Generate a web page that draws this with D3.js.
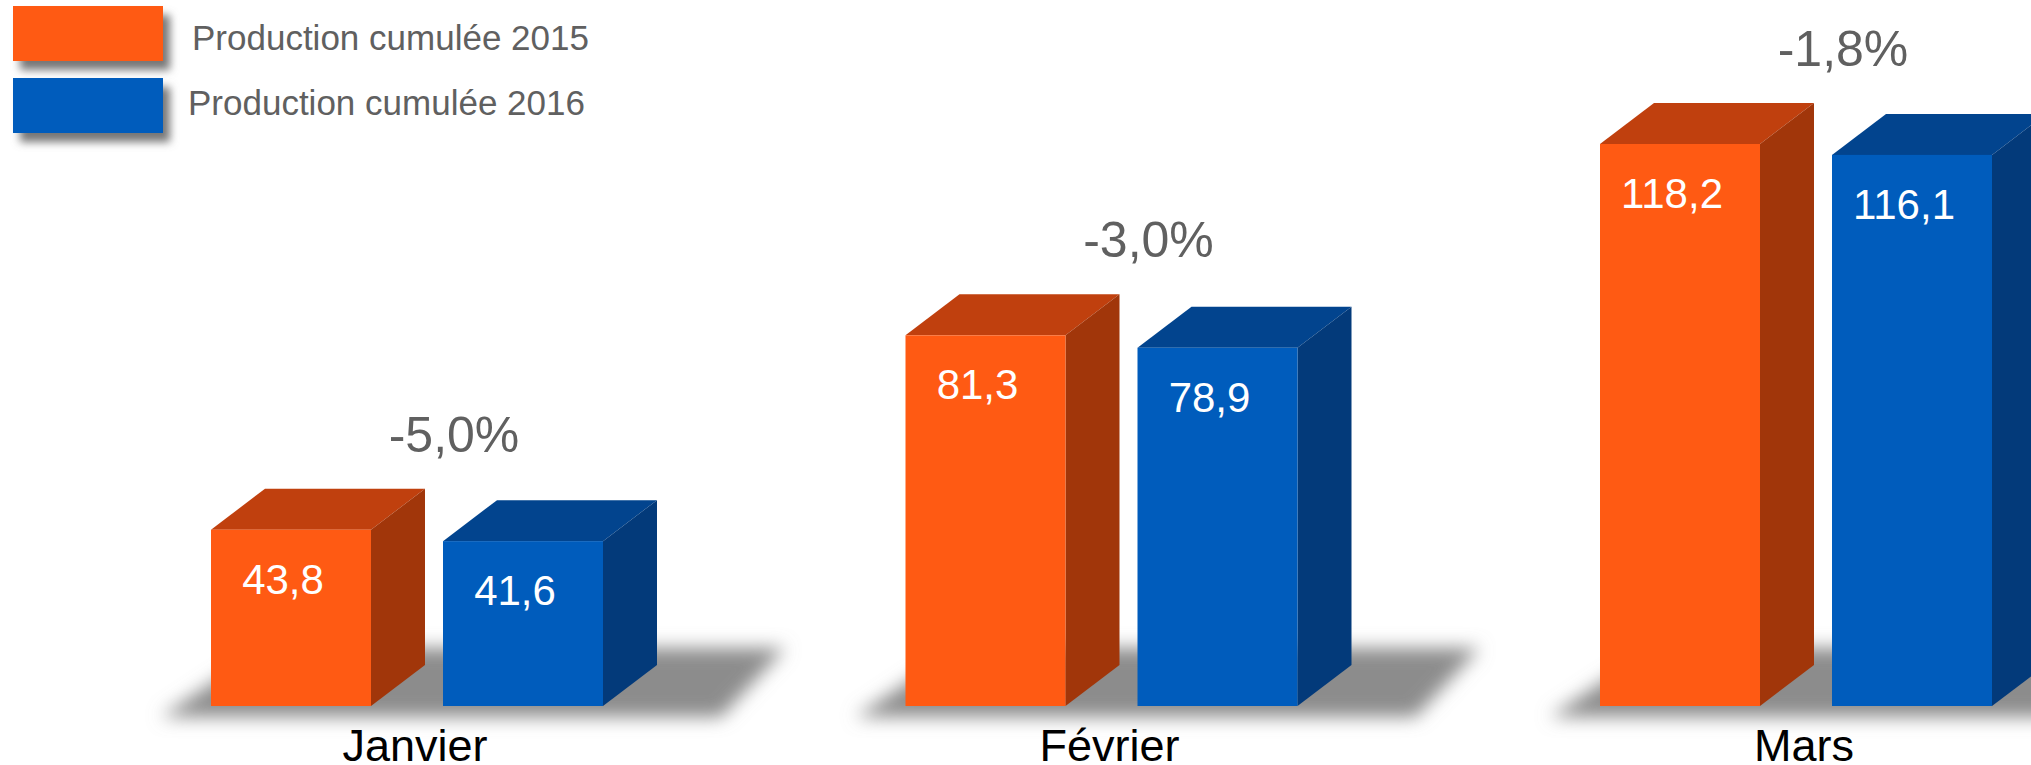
<!DOCTYPE html>
<html>
<head>
<meta charset="utf-8">
<script src="https://cdn.jsdelivr.net/npm/d3@7"></script>
<style>
  html, body { margin: 0; padding: 0; background: #fff; overflow: hidden; }
  svg { display: block; font-family: "Liberation Sans", Arial, sans-serif; }
</style>
</head>
<body>
<svg width="2031" height="765"></svg>
<script>
const months = ["Janvier", "Février", "Mars"]
const seriesNames = ["Production cumulée 2015", "Production cumulée 2016"]
const values2015 = [43.8, 81.3, 118.2]
const values2016 = [41.6, 78.9, 116.1]
const changes = ["-5,0%", "-3,0%", "-1,8%"]

const front = ["#ff5a13", "#005cbc"]
const top3d = ["#c0400e", "#02448e"]
const side = ["#a1360a", "#033a7a"]

const depthX = 54, depthY = 41, baseY = 706

const svg = d3.select("svg")

const defs = svg.append("defs")
defs.append("filter").attr("id", "floor").attr("x", "-20%").attr("y", "-50%").attr("width", "140%").attr("height", "200%")
  .append("feGaussianBlur").attr("stdDeviation", 9)
defs.append("filter").attr("id", "soft").attr("x", "-20%").attr("y", "-30%").attr("width", "140%").attr("height", "170%")
  .append("feGaussianBlur").attr("stdDeviation", 4)

// value axis does not start at zero in the original
const y = d3.scaleLinear().domain([9.8, 118.2]).range([baseY, 144])
const x = d3.scaleBand().domain(months).range([211, 211 + 3 * 694.5])
const xSeries = d3.scaleOrdinal().domain([0, 1]).range([0, 232])
const barWidth = 160

const fmt = (v) => d3.format(".1f")(v).replace(".", ",")

// floor shadows
svg.append("g").selectAll("path").data(months).join("path")
  .attr("d", (m) => {
    const l = x(m)
    return `M${l - 50},717 L${l + 510},717 L${l + 510 + 64},648 L${l + 54},648 Z`
  })
  .attr("fill", "#8c8c8c")
  .attr("filter", "url(#floor)")

months.forEach((m, i) => {
  const rows = [values2015[i], values2016[i]]
  const g = svg.append("g")

  g.selectAll(".top").data(rows).join("path").attr("class", "top")
    .attr("fill", (d, s) => top3d[s])
    .attr("d", (d, s) => {
      const l = x(m) + xSeries(s), t = y(d)
      return `M${l},${t} L${l + depthX},${t - depthY} L${l + barWidth + depthX},${t - depthY} L${l + barWidth},${t} Z`
    })

  g.selectAll(".side").data(rows).join("path").attr("class", "side")
    .attr("fill", (d, s) => side[s])
    .attr("d", (d, s) => {
      const r = x(m) + xSeries(s) + barWidth, t = y(d)
      return `M${r},${t} L${r + depthX},${t - depthY} L${r + depthX},${baseY - depthY} L${r},${baseY} Z`
    })

  g.selectAll(".front").data(rows).join("rect").attr("class", "front")
    .attr("x", (d, s) => x(m) + xSeries(s))
    .attr("y", (d) => y(d))
    .attr("width", barWidth)
    .attr("height", (d) => baseY - y(d))
    .attr("fill", (d, s) => front[s])

  g.selectAll(".val").data(rows).join("text").attr("class", "val")
    .attr("x", (d, s) => x(m) + xSeries(s) + barWidth * 0.45)
    .attr("y", (d) => y(d) + 64)
    .attr("text-anchor", "middle")
    .attr("font-size", 42)
    .attr("fill", "#fff")
    .text(fmt)

  svg.append("text")
    .attr("x", x(m) + 243)
    .attr("y", y(rows[0]) - depthY - 37)
    .attr("text-anchor", "middle")
    .attr("font-size", 50)
    .attr("fill", "#606060")
    .text(changes[i])

  svg.append("text")
    .attr("x", x(m) + 204)
    .attr("y", 761)
    .attr("text-anchor", "middle")
    .attr("font-size", 45)
    .attr("fill", "#000")
    .text(m)
})

// legend
const legendY = [6, 78], legendTextX = [192, 188], legendTextY = [50, 115]
const legend = svg.append("g")
legend.selectAll(".shadow").data(seriesNames).join("rect").attr("class", "shadow")
  .attr("x", 20).attr("y", (d, i) => legendY[i] + 9)
  .attr("width", 150).attr("height", 55)
  .attr("fill", "#777").attr("filter", "url(#soft)")
legend.selectAll(".swatch").data(seriesNames).join("rect").attr("class", "swatch")
  .attr("x", 13).attr("y", (d, i) => legendY[i])
  .attr("width", 150).attr("height", 55)
  .attr("fill", (d, i) => front[i])
legend.selectAll("text").data(seriesNames).join("text")
  .attr("x", (d, i) => legendTextX[i]).attr("y", (d, i) => legendTextY[i])
  .attr("font-size", 35).attr("fill", "#606060")
  .text((d) => d)
</script>
</body>
</html>
